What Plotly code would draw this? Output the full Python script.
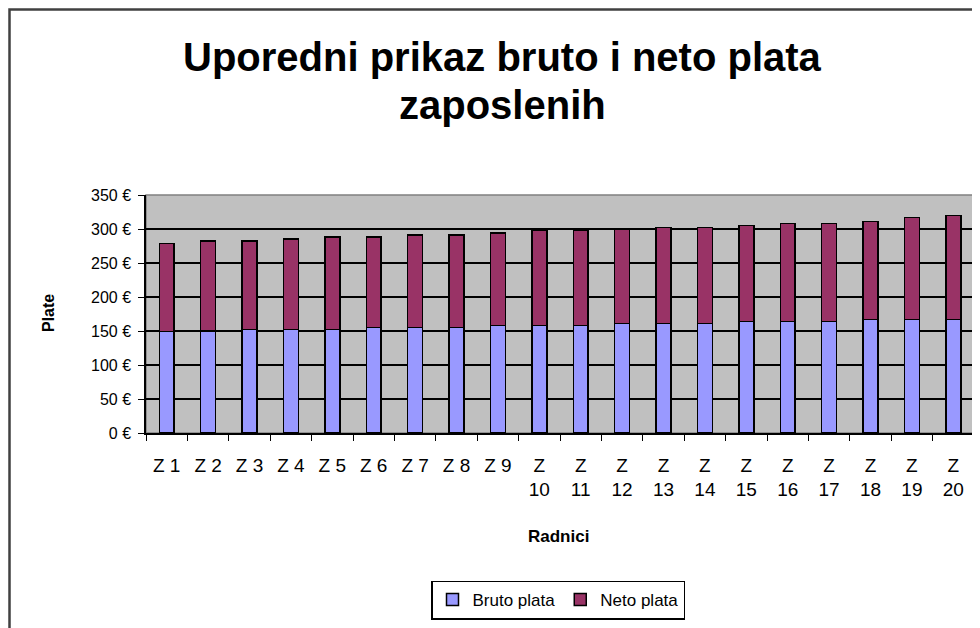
import plotly.graph_objects as go

categories = ["Z 1", "Z 2", "Z 3", "Z 4", "Z 5", "Z 6", "Z 7", "Z 8", "Z 9", "Z 10",
              "Z 11", "Z 12", "Z 13", "Z 14", "Z 15", "Z 16", "Z 17", "Z 18", "Z 19", "Z 20"]
tick_labels = ["Z 1", "Z 2", "Z 3", "Z 4", "Z 5", "Z 6", "Z 7", "Z 8", "Z 9", "Z<br>10",
               "Z<br>11", "Z<br>12", "Z<br>13", "Z<br>14", "Z<br>15", "Z<br>16", "Z<br>17",
               "Z<br>18", "Z<br>19", "Z<br>20"]
bruto = [149, 150, 152, 152, 152, 155, 155, 155, 158, 158,
         158, 161, 161, 161, 164, 164, 164, 167, 167, 167]
neto = [130, 132, 130, 133, 136, 133, 136, 136, 136, 140,
        140, 139, 141, 141, 141, 144, 144, 144, 150, 153]
y_ticks = [0, 50, 100, 150, 200, 250, 300, 350]
y_tick_labels = ["0 \u20ac", "50 \u20ac", "100 \u20ac", "150 \u20ac",
                 "200 \u20ac", "250 \u20ac", "300 \u20ac", "350 \u20ac"]

FONT = "Liberation Sans, Arial, sans-serif"

# page offset of the figure (body margin)
OFF = 8
# plot area in page pixels
L, R, T, B = 146, 974, 195, 433
W, H = 980, 628

def px_x(px):
    return (px - L) / (R - L)

def px_y(py):
    return (B - py) / (B - T)

fig = go.Figure()
fig.add_trace(go.Bar(x=categories, y=bruto, name="Bruto plata",
                     marker=dict(color="#9999FF", line=dict(color="black", width=1.5))))
fig.add_trace(go.Bar(x=categories, y=neto, name="Neto plata",
                     marker=dict(color="#993366", line=dict(color="black", width=1.5))))

fig.update_layout(
    width=W, height=H,
    margin=dict(l=L - OFF, r=W - (R - OFF), t=T - OFF, b=H - (B - OFF), pad=0),
    barmode="stack", bargap=0.64,
    paper_bgcolor="white", plot_bgcolor="#C0C0C0",
    font=dict(family=FONT, color="black", size=15),
    showlegend=True,
    legend=dict(orientation="h", x=px_x(558), xanchor="center",
                y=px_y(600), yanchor="middle",
                bordercolor="black", borderwidth=1.5,
                font=dict(size=17, family=FONT), traceorder="normal",
                itemwidth=30),
)
fig.update_xaxes(
    tickmode="array", tickvals=categories, ticktext=tick_labels,
    tickson="boundaries", ticks="outside", ticklen=6, tickcolor="black",
    showline=True, linecolor="black", linewidth=1.5,
    showgrid=False, tickfont=dict(size=19, family=FONT),
    ticklabelstandoff=14,
)
fig.update_yaxes(
    range=[0, 350], tickmode="array", tickvals=y_ticks, ticktext=y_tick_labels,
    ticks="outside", ticklen=6, tickcolor="black",
    showline=True, linecolor="black", linewidth=1.5,
    showgrid=True, gridcolor="black", gridwidth=1.5,
    tickfont=dict(size=16, family=FONT), zeroline=False,
    ticklabelstandoff=4,
)

# plot area border (top/right gray)
fig.add_shape(type="rect", xref="paper", yref="paper", x0=0, x1=1, y0=0, y1=1,
              line=dict(color="#808080", width=1.5), layer="below")
# outer chart border
fig.add_shape(type="rect", xref="paper", yref="paper",
              x0=px_x(9.5), x1=px_x(1000), y0=px_y(660), y1=px_y(9.5),
              line=dict(color="#404040", width=2.5))

fig.add_annotation(text="<b>Uporedni prikaz bruto i neto plata</b>", xref="paper", yref="paper",
                   x=px_x(502), y=px_y(57), showarrow=False, xanchor="center", yanchor="middle",
                   font=dict(size=40, family=FONT))
fig.add_annotation(text="<b>zaposlenih</b>", xref="paper", yref="paper",
                   x=px_x(502), y=px_y(105), showarrow=False, xanchor="center", yanchor="middle",
                   font=dict(size=40, family=FONT))
fig.add_annotation(text="<b>Radnici</b>", xref="paper", yref="paper",
                   x=px_x(558), y=px_y(536), showarrow=False, xanchor="center", yanchor="middle",
                   font=dict(size=17, family=FONT))
fig.add_annotation(text="<b>Plate</b>", xref="paper", yref="paper",
                   x=px_x(48), y=px_y(313), showarrow=False, xanchor="center", yanchor="middle",
                   textangle=-90, font=dict(size=16, family=FONT))

fig.write_html("out.html")
